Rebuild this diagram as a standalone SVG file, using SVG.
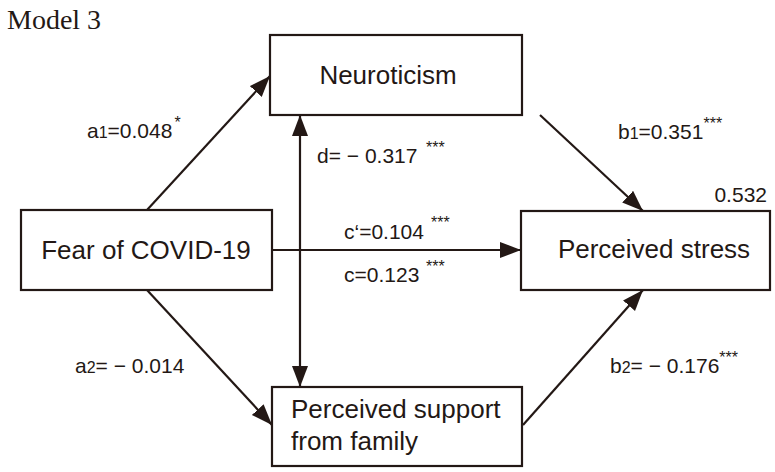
<svg xmlns="http://www.w3.org/2000/svg" width="775" height="472" viewBox="0 0 775 472">
<defs>
<marker id="ah" markerUnits="userSpaceOnUse" markerWidth="22" markerHeight="18" refX="21" refY="8" orient="auto-start-reverse">
<path d="M0,0 L21,8 L0,16 Z" fill="#231815"/>
</marker>
</defs>
<style>
.box{fill:#fff;stroke:#231815;stroke-width:2.2}
.lbl{font-family:"Liberation Sans",Arial,sans-serif;fill:#231815}
.node{font-size:26px}
.edge{font-size:21px}
.sub{font-size:16px}
.star{font-size:16px}
.con{stroke:#231815;stroke-width:2.2;fill:none;marker-end:url(#ah)}
</style>
<rect width="775" height="472" fill="#fff"/>
<text x="7" y="29" font-family="'Liberation Serif','Times New Roman',serif" font-size="28" fill="#231815">Model 3</text>
<g id="connectors">
<path class="con" d="M147,210 L270,76"/>
<path class="con" d="M147,290 L272,425"/>
<path class="con" d="M540,115 L643,211"/>
<path class="con" d="M523,425 L643,290"/>
<path class="con" d="M272,250 L521,250"/>
<path class="con" d="M300,115 L300,387" style="marker-start:url(#ah)"/>
</g>
<g id="neuroticism">
<rect class="box" x="270" y="35" width="252" height="80"/>
<text class="lbl node" x="388" y="84" text-anchor="middle">Neuroticism</text>
</g>
<g id="fear">
<rect class="box" x="21" y="210" width="251" height="80"/>
<text class="lbl node" x="146" y="259" text-anchor="middle">Fear of COVID-19</text>
</g>
<g id="stress">
<rect class="box" x="521" y="211" width="249" height="79"/>
<text class="lbl node" x="654" y="258" text-anchor="middle">Perceived stress</text>
<text class="lbl edge" x="767" y="202" text-anchor="end">0.532</text>
</g>
<g id="support">
<rect class="box" x="272" y="387" width="250" height="79"/>
<text class="lbl node" x="291" y="418">Perceived support</text>
<text class="lbl node" x="291" y="450">from family</text>
</g>
<g id="edge-labels">
<text class="lbl edge" x="87" y="138">a<tspan class="sub">1</tspan>=0.048<tspan class="star" dx="2" dy="-10">*</tspan></text>
<text class="lbl edge" x="75" y="373">a<tspan class="sub">2</tspan>= − 0.014</text>
<text class="lbl edge" x="317" y="163">d= − 0.317<tspan class="star" x="426" dy="-10">***</tspan></text>
<text class="lbl edge" x="344" y="239">c‘=0.104<tspan class="star" x="431" dy="-11">***</tspan></text>
<text class="lbl edge" x="344" y="282">c=0.123<tspan class="star" x="426" dy="-10">***</tspan></text>
<text class="lbl edge" x="618" y="139">b<tspan class="sub">1</tspan>=0.351<tspan class="star" dy="-10">***</tspan></text>
<text class="lbl edge" x="610" y="373">b<tspan class="sub">2</tspan>= − 0.176<tspan class="star" dy="-10">***</tspan></text>
</g>
</svg>
